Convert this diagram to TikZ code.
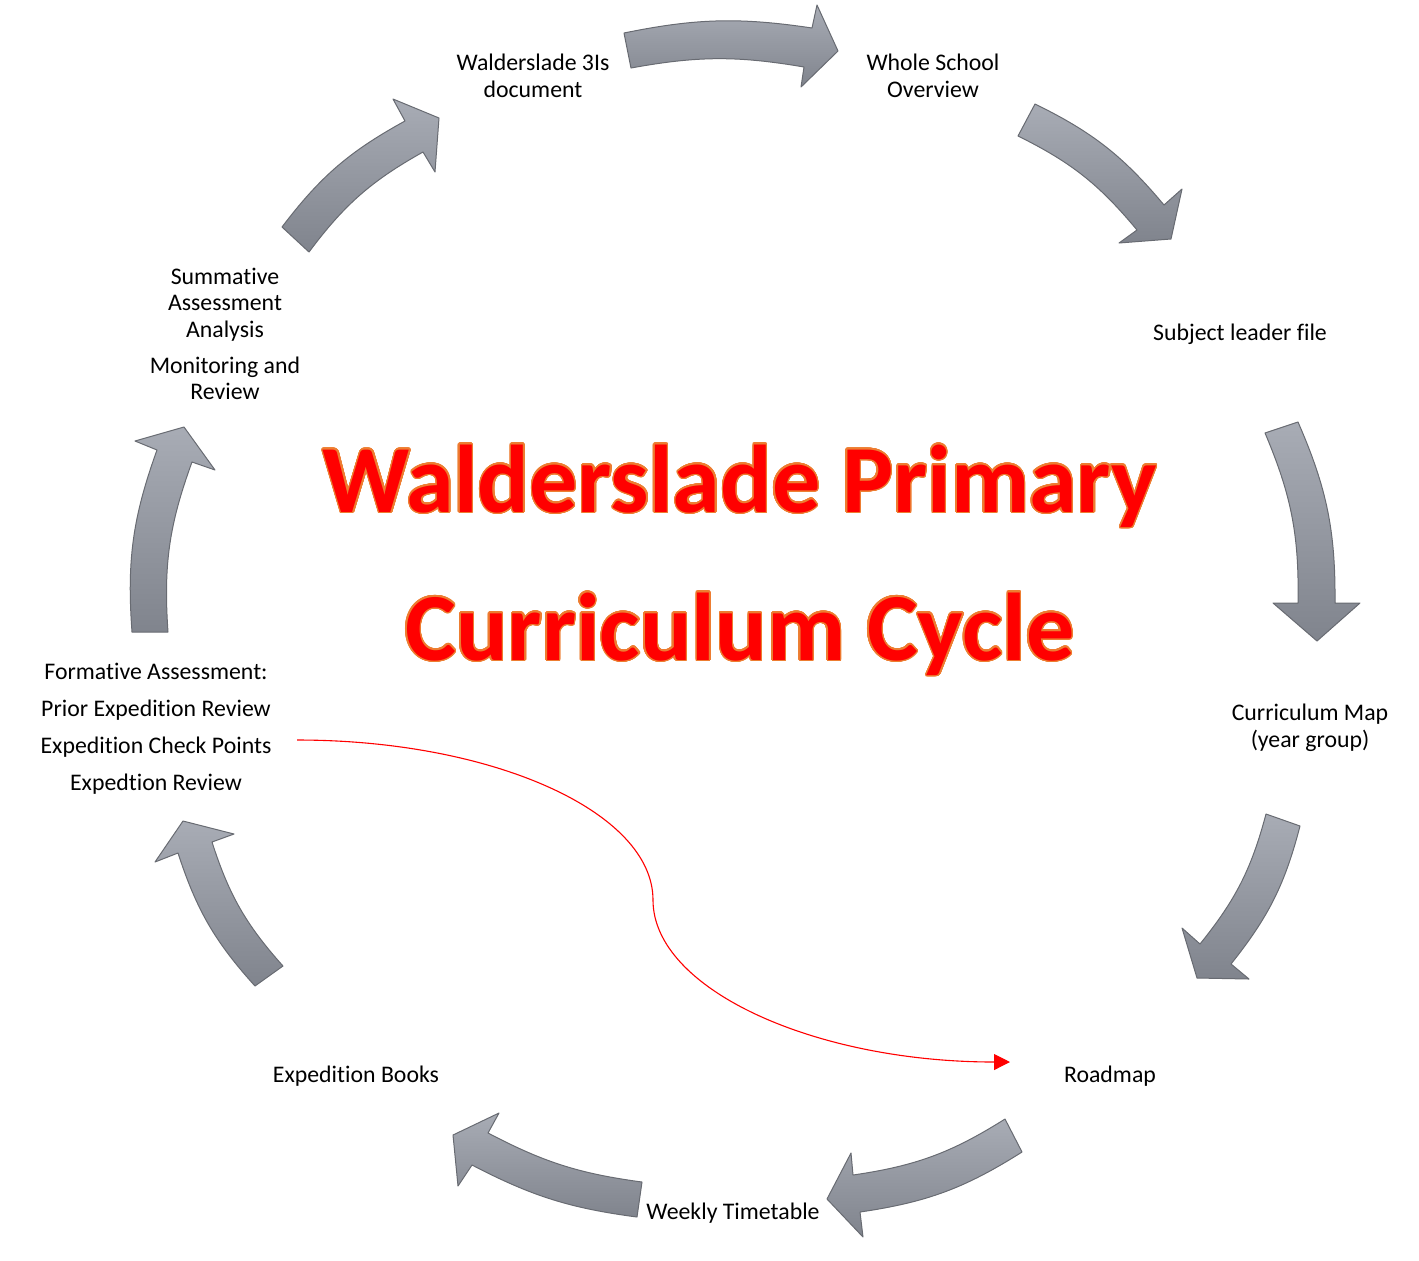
\documentclass[tikz,border=0pt]{standalone}
\usepackage{fontspec}
\setmainfont{Carlito}[Ligatures=NoCommon]
\usepackage{contour}
\contourlength{0.7pt}
\contournumber{32}
\usetikzlibrary{arrows.meta}
\definecolor{arrLight}{HTML}{A8ACB5}
\definecolor{arrDark}{HTML}{80848D}
\definecolor{arrLine}{HTML}{686B72}
\definecolor{titleRed}{HTML}{FF0000}
\definecolor{titleOrange}{HTML}{ED7D31}
\begin{document}
\begin{tikzpicture}[x=0.5pt,y=0.5pt,
  blk/.style={top color=arrLight,bottom color=arrDark,draw=arrLine,line width=0.5pt,line join=round},
  lbl/.style={inner sep=0pt,align=center,font=\fontsize{11.9}{13.25}\selectfont},
  ttl/.style={inner sep=0pt,anchor=base,text=titleRed,font=\fontsize{48.1}{60}\selectfont\bfseries},
  link/.style={draw=red,line width=0.55pt,-{Triangle[length=8pt,width=8pt]}}]
\useasboundingbox (0,0) rectangle (1419,-1260);
% block arrows (clockwise)
\path[blk] (624,-33) to[bend left=10] (812,-28) -- (817,-5) -- (838,-51) -- (801,-87) -- (804,-67) to[bend right=10] (631,-68) -- cycle;
\path[blk] (1035,-104) to[bend left=12] (1164,-205) -- (1182,-189) -- (1171,-239) -- (1119,-243) -- (1137,-230) to[bend right=12] (1018,-136) -- cycle;
\path[blk] (1298,-422) to[bend left=12] (1335,-603) -- (1360,-603) -- (1317,-641) -- (1273,-603) -- (1298,-603) to[bend right=12] (1265,-433) -- cycle;
\path[blk] (1300,-826) to[bend left=12] (1231,-964) -- (1249,-979) -- (1197,-978) -- (1182,-928) -- (1200,-944) to[bend right=12] (1266,-814) -- cycle;
\path[blk] (1022,-1152) to[bend left=12] (860,-1212) -- (863,-1237) -- (827,-1199) -- (851,-1153) -- (853,-1175) to[bend right=12] (1005,-1119) -- cycle;
\path[blk] (637,-1217) to[bend left=10] (472,-1165) -- (458,-1186) -- (453,-1135) -- (499,-1113) -- (488,-1133) to[bend right=10] (642,-1182) -- cycle;
\path[blk] (255,-986) to[bend left=12] (178,-853) -- (155,-862) -- (183,-821) -- (234,-834) -- (212,-842) to[bend right=12] (283,-966) -- cycle;
\path[blk] (132,-632) to[bend left=12] (157,-450) -- (135,-441) -- (184,-427) -- (215,-470) -- (192,-462) to[bend right=12] (168,-632) -- cycle;
\path[blk] (282,-227) to[bend left=12] (405,-121) -- (393,-99) -- (439,-118) -- (435,-172) -- (423,-152) to[bend right=12] (309,-252) -- cycle;
% labels
\node[lbl] (w3) at (533,-76) {Walderslade 3Is\\document};
\node[lbl] (wso) at (933,-76) {Whole School\\Overview};
\node[lbl] (slf) at (1240,-334) {Subject leader file};
\node[lbl] (cmap) at (1310,-728) {Curriculum Map\\(year group)};
\node[lbl] (road) at (1110,-1076) {Roadmap};
\node[lbl] (week) at (733,-1213) {Weekly Timetable};
\node[lbl] (books) at (356,-1076) {Expedition Books};
\node[lbl] (form) at (156,-729) {Formative Assessment:\\[5.25pt]Prior Expedition Review\\[5.25pt]Expedition Check Points\\[5.25pt]Expedtion Review};
\node[lbl] (summ) at (225,-334) {Summative\\Assessment\\Analysis\\[4.75pt]Monitoring and\\Review};
% title
\node[ttl] (t1) at (740,-512) {\contour{titleOrange}{Walderslade Primary}};
\node[ttl] (t2) at (740,-660) {\contour{titleOrange}{Curriculum Cycle}};
% red connector
\coordinate (rs) at (297,-740);
\coordinate (re) at (1010,-1062);
\draw[link] (rs) .. controls (493,-740) and (653,-812) .. (653,-900) .. controls (653,-989) and (814,-1062) .. (re);
\end{tikzpicture}
\end{document}
